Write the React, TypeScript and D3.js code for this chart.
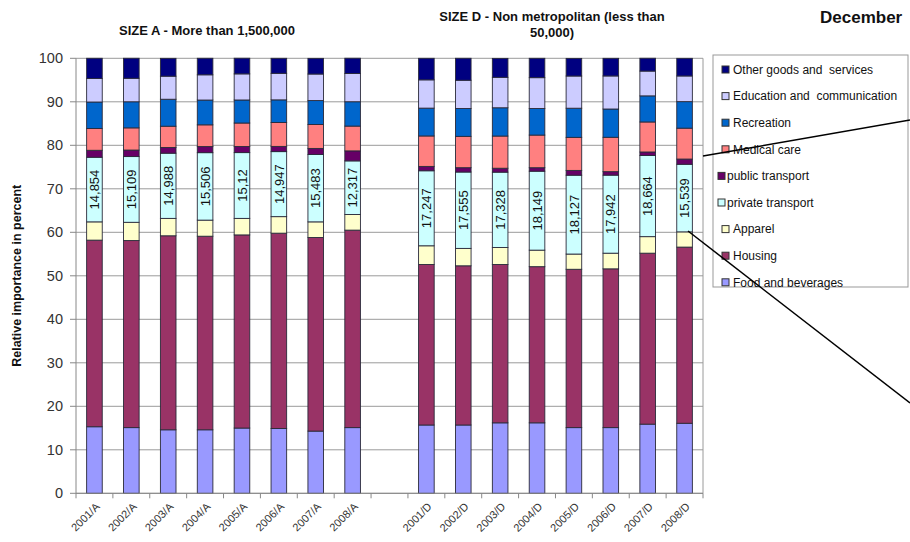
import React from "react";
import * as d3 from "d3";

// Category order along the x axis; the empty slot separates the two city-size groups
const categories = [
  "2001/A", "2002/A", "2003/A", "2004/A", "2005/A", "2006/A", "2007/A", "2008/A",
  "",
  "2001/D", "2002/D", "2003/D", "2004/D", "2005/D", "2006/D", "2007/D", "2008/D",
];

// Stack order, bottom to top
const seriesNames = [
  "Food and beverages",
  "Housing",
  "Apparel",
  "private transport",
  "public transport",
  "Medical care",
  "Recreation",
  "Education and  communication",
  "Other goods and  services",
];

const seriesColors = [
  "#9999FF", "#993366", "#FFFFCC", "#CCFFFF", "#660066",
  "#FF8080", "#0066CC", "#CCCCFF", "#000080",
];

// Relative importance (percent) per category, one array per series (null = gap)
const food =       [15.3, 15.1, 14.6, 14.6, 15.0, 14.9, 14.3, 15.1, null, 15.7, 15.7, 16.2, 16.2, 15.1, 15.1, 15.9, 16.1];
const housing =    [42.9, 43.0, 44.6, 44.5, 44.4, 44.9, 44.5, 45.4, null, 36.9, 36.6, 36.4, 35.9, 36.4, 36.5, 39.3, 40.5];
const apparel =    [4.2, 4.2, 4.0, 3.7, 3.8, 3.8, 3.6, 3.6, null, 4.3, 4.0, 3.9, 3.8, 3.5, 3.6, 3.8, 3.5];
const privateTr =  [14.854, 15.109, 14.988, 15.506, 15.12, 14.947, 15.483, 12.317, null, 17.247, 17.555, 17.328, 18.149, 18.127, 17.942, 18.664, 15.539];
const publicTr =   [1.6, 1.5, 1.3, 1.4, 1.4, 1.2, 1.4, 2.3, null, 1.0, 1.0, 0.9, 0.8, 1.1, 0.8, 0.8, 1.2];
const medical =    [5.0, 5.1, 4.9, 5.0, 5.4, 5.5, 5.5, 5.7, null, 7.0, 7.2, 7.4, 7.5, 7.6, 7.9, 6.9, 7.1];
const recreation = [6.1, 6.0, 6.2, 5.7, 5.3, 5.2, 5.5, 5.6, null, 6.4, 6.4, 6.5, 6.1, 6.7, 6.5, 6.0, 6.1];
const education =  [5.4, 5.4, 5.3, 5.8, 6.0, 6.1, 6.1, 6.5, null, 6.5, 6.5, 7.0, 7.1, 7.4, 7.6, 5.7, 5.9];
const other =      [4.65, 4.6, 4.1, 3.8, 3.6, 3.45, 3.6, 3.5, null, 4.95, 5.05, 4.35, 4.45, 4.05, 4.05, 2.95, 4.05];

// Value labels shown on the private transport segment
const privateLabels = [
  "14,854", "15,109", "14,988", "15,506", "15,12", "14,947", "15,483", "12,317", "",
  "17,247", "17,555", "17,328", "18,149", "18,127", "17,942", "18,664", "15,539",
];

const yTicks = [0, 10, 20, 30, 40, 50, 60, 70, 80, 90, 100];

const seriesValues = [food, housing, apparel, privateTr, publicTr, medical, recreation, education, other];

const FONT = "Arial, 'Liberation Sans', sans-serif";

export default function App() {
  const W = 910;
  const H = 542;
  const plot = { left: 76, right: 703, top: 58.3, bottom: 493.3 };

  const x = d3.scaleBand<string>()
    .domain(categories.map((c, i) => `${i}`))
    .range([plot.left, plot.right])
    .padding(0);
  const y = d3.scaleLinear().domain([0, 100]).range([plot.bottom, plot.top]);

  const rows = categories.map((c, i) => {
    const r: Record<string, number> = { idx: i };
    seriesNames.forEach((s, k) => {
      r[s] = seriesValues[k][i] ?? 0;
    });
    return r;
  });
  const stacked = d3.stack<Record<string, number>>().keys(seriesNames)(rows);

  const bw = x.bandwidth();
  const barW = 15.6;

  const legendX = 713;
  const legendY = 55;
  const legendItems = [...seriesNames].reverse();
  const legendColors = [...seriesColors].reverse();

  return (
    <svg
      width={W}
      height={H}
      style={{ position: "absolute", left: 0, top: 0, background: "#fff" }}
      fontFamily={FONT}
    >
      <rect x={0} y={0} width={W} height={H} fill="#fff" />

      {/* titles */}
      <text x={207} y={35} textAnchor="middle" fontSize={13} fontWeight="bold" fill="#111">
        SIZE A - More than 1,500,000
      </text>
      <text x={552} y={21} textAnchor="middle" fontSize={13} fontWeight="bold" fill="#111">
        SIZE D - Non metropolitan (less than
      </text>
      <text x={552} y={37} textAnchor="middle" fontSize={13} fontWeight="bold" fill="#111">
        50,000)
      </text>
      <text x={820} y={23} fontSize={17} fontWeight="bold" fill="#111">
        December
      </text>

      {/* gridlines */}
      {yTicks.map((t) => (
        <line key={`g${t}`} x1={plot.left} x2={plot.right} y1={y(t)} y2={y(t)} stroke="#9a9a9a" strokeWidth={1} />
      ))}
      <line x1={plot.right} x2={plot.right} y1={plot.top} y2={plot.bottom} stroke="#9a9a9a" strokeWidth={1} />

      {/* y axis */}
      <line x1={plot.left} x2={plot.left} y1={plot.top} y2={plot.bottom} stroke="#888" strokeWidth={1} />
      {yTicks.map((t) => (
        <g key={`yt${t}`}>
          <line x1={plot.left - 6} x2={plot.left} y1={y(t)} y2={y(t)} stroke="#888" />
          <text x={plot.left - 13} y={y(t)} dy="0.35em" textAnchor="end" fontSize={14.5} fill="#333">
            {t}
          </text>
        </g>
      ))}
      <text
        transform={`translate(21,${(plot.top + plot.bottom) / 2}) rotate(-90)`}
        textAnchor="middle"
        fontSize={12.5}
        fontWeight="bold"
        fill="#111"
      >
        Relative importance in percent
      </text>

      {/* bars */}
      {stacked.map((layer, k) => (
        <g key={`s${k}`}>
          {layer.map((d, i) => {
            if (categories[i] === "") return null;
            const cx = (x(`${i}`) as number) + bw / 2;
            return (
              <rect
                key={i}
                x={cx - barW / 2}
                y={y(d[1])}
                width={barW}
                height={Math.max(0, y(d[0]) - y(d[1]))}
                fill={seriesColors[k]}
                stroke="#2a2a3a"
                strokeWidth={0.9}
              />
            );
          })}
        </g>
      ))}

      {/* private transport value labels */}
      {stacked[3].map((d, i) => {
        if (categories[i] === "") return null;
        const cx = (x(`${i}`) as number) + bw / 2;
        const cy = (y(d[0]) + y(d[1])) / 2;
        return (
          <text
            key={`l${i}`}
            transform={`translate(${cx},${cy}) rotate(-90)`}
            textAnchor="middle"
            dy="0.36em"
            fontSize={13}
            fill="#111"
          >
            {privateLabels[i]}
          </text>
        );
      })}

      {/* x axis */}
      <line x1={plot.left} x2={plot.right} y1={plot.bottom} y2={plot.bottom} stroke="#888" />
      {categories.map((c, i) => {
        const x0 = x(`${i}`) as number;
        return (
          <line key={`xt${i}`} x1={x0} x2={x0} y1={plot.bottom} y2={plot.bottom + 5} stroke="#888" />
        );
      })}
      <line x1={plot.right} x2={plot.right} y1={plot.bottom} y2={plot.bottom + 5} stroke="#888" />
      {categories.map((c, i) => {
        if (c === "") return null;
        const cx = (x(`${i}`) as number) + bw / 2;
        return (
          <text
            key={`xl${i}`}
            transform={`translate(${cx + 6},${plot.bottom + 14}) rotate(-45)`}
            textAnchor="end"
            fontSize={11}
            fill="#333"
          >
            {c}
          </text>
        );
      })}

      {/* legend */}
      <rect x={legendX} y={legendY} width={195} height={232} fill="#fff" stroke="#999" strokeWidth={1} />
      {legendItems.map((name, j) => {
        const ly = 69.5 + j * 26.6;
        const tight = name === "public transport" || name === "private transport";
        const mx = tight ? 718 : 722;
        const tx = tight ? 727 : 733;
        return (
          <g key={`lg${j}`}>
            <rect x={mx} y={ly - 3.5} width={7} height={7} fill={legendColors[j]} stroke="#333" strokeWidth={1} />
            <text x={tx} y={ly} dy="0.35em" fontSize={12} fill="#111" style={{ whiteSpace: "pre" }}>
              {name}
            </text>
          </g>
        );
      })}

      {/* callout lines */}
      <line x1={703} y1={156} x2={910} y2={120} stroke="#000" strokeWidth={1.5} />
      <line x1={688} y1={231} x2={910} y2={403} stroke="#000" strokeWidth={1.5} />
    </svg>
  );
}
